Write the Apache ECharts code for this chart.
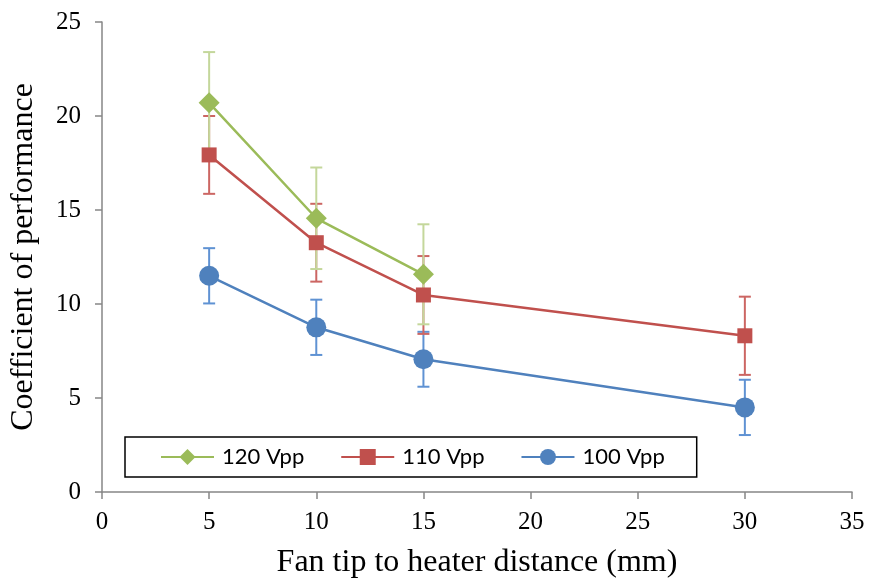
<!DOCTYPE html>
<html>
<head>
<meta charset="utf-8">
<script src="https://cdn.jsdelivr.net/npm/echarts@6/dist/echarts.min.js"></script>
<style>
  html, body { margin: 0; padding: 0; background: #fff; }
  #chart { width: 869px; height: 585px; }
</style>
</head>
<body>
<div id="chart"></div>
<script>
// distances (mm)
const distances = [5, 10, 15, 30];

// coefficient of performance per drive voltage
const cop120 = [20.7, 14.56, 11.58];
const cop110 = [17.93, 13.26, 10.48, 8.31];
const cop100 = [11.5, 8.76, 7.06, 4.5];

// error bar half-widths
const err120 = [2.7, 2.7, 2.66];
const err110 = [2.07, 2.07, 2.07, 2.08];
const err100 = [1.47, 1.47, 1.46, 1.47];

const xTicks = [0, 5, 10, 15, 20, 25, 30, 35];
const yTicks = [0, 5, 10, 15, 20, 25];

const names = ['120 Vpp', '110 Vpp', '100 Vpp'];
const colors = ['#9bbb59', '#c0504d', '#4f81bd'];
const errColors = ['#c4d79b', '#cc6663', '#5f92d3'];

function pairs(ys) {
  return ys.map((y, i) => [distances[i], y]);
}
function errData(ys, errs) {
  return ys.map((y, i) => [distances[i], y - errs[i], y + errs[i]]);
}

function errorSeries(ys, errs, color, z) {
  return {
    type: 'custom',
    z: z,
    silent: true,
    data: errData(ys, errs),
    renderItem: function (params, api) {
      const x = api.value(0);
      const lo = api.coord([x, api.value(1)]);
      const hi = api.coord([x, api.value(2)]);
      const half = 6;
      const style = { stroke: color, lineWidth: 2 };
      return {
        type: 'group',
        children: [
          { type: 'line', shape: { x1: lo[0], y1: lo[1], x2: hi[0], y2: hi[1] }, style: style },
          { type: 'line', shape: { x1: lo[0] - half, y1: lo[1], x2: lo[0] + half, y2: lo[1] }, style: style },
          { type: 'line', shape: { x1: hi[0] - half, y1: hi[1], x2: hi[0] + half, y2: hi[1] }, style: style }
        ]
      };
    }
  };
}

function lineSeries(name, ys, color, symbol, size, z) {
  return {
    name: name,
    type: 'line',
    z: z,
    data: pairs(ys),
    symbol: symbol,
    symbolSize: size,
    showAllSymbol: true,
    lineStyle: { color: color, width: 2.5 },
    itemStyle: { color: color, borderWidth: 0 },
    emphasis: { disabled: true }
  };
}

const chart = echarts.init(document.getElementById('chart'), null, { renderer: 'canvas' });

const axisLine = { show: true, lineStyle: { color: '#868686', width: 1.5 } };
const axisTick = { show: true, inside: false, length: 7, lineStyle: { color: '#868686', width: 1.5 } };
const tickFont = { fontFamily: 'Liberation Serif', fontSize: 25, color: '#000' };

chart.setOption({
  animation: false,
  backgroundColor: '#fff',
  grid: { left: 99, right: 17, top: 22, bottom: 93, containLabel: false },
  xAxis: {
    type: 'value',
    min: xTicks[0],
    max: xTicks[xTicks.length - 1],
    interval: 5,
    axisLine: axisLine,
    axisTick: axisTick,
    splitLine: { show: false },
    axisLabel: Object.assign({ margin: 18 }, tickFont),
    name: 'Fan tip to heater distance (mm)',
    nameLocation: 'middle',
    nameGap: 55,
    nameTextStyle: { fontFamily: 'Liberation Serif', fontSize: 32, color: '#000' }
  },
  yAxis: {
    type: 'value',
    min: yTicks[0],
    max: yTicks[yTicks.length - 1],
    interval: 5,
    axisLine: axisLine,
    axisTick: axisTick,
    splitLine: { show: false },
    axisLabel: Object.assign({ margin: 21 }, tickFont),
    name: 'Coefficient of performance',
    nameLocation: 'middle',
    nameGap: 62,
    nameRotate: 90,
    nameTextStyle: { fontFamily: 'Liberation Serif', fontSize: 32, color: '#000' }
  },
  legend: {
    data: names,
    left: 125,
    top: 437,
    orient: 'horizontal',
    borderColor: '#000',
    borderWidth: 1.5,
    padding: [9, 32, 9, 35],
    itemGap: 36,
    itemWidth: 53,
    itemHeight: 20,
    textStyle: { fontFamily: 'Lato', fontSize: 22, color: '#000', padding: [0, 0, 0, 3] }
  },
  series: [
    errorSeries(cop100, err100, errColors[2], 1),
    errorSeries(cop110, err110, errColors[1], 1),
    errorSeries(cop120, err120, errColors[0], 1),
    lineSeries(names[2], cop100, colors[2], 'circle', 20, 3),
    lineSeries(names[1], cop110, colors[1], 'rect', 15, 4),
    lineSeries(names[0], cop120, colors[0], 'diamond', 21, 5)
  ]
});
</script>
</body>
</html>
